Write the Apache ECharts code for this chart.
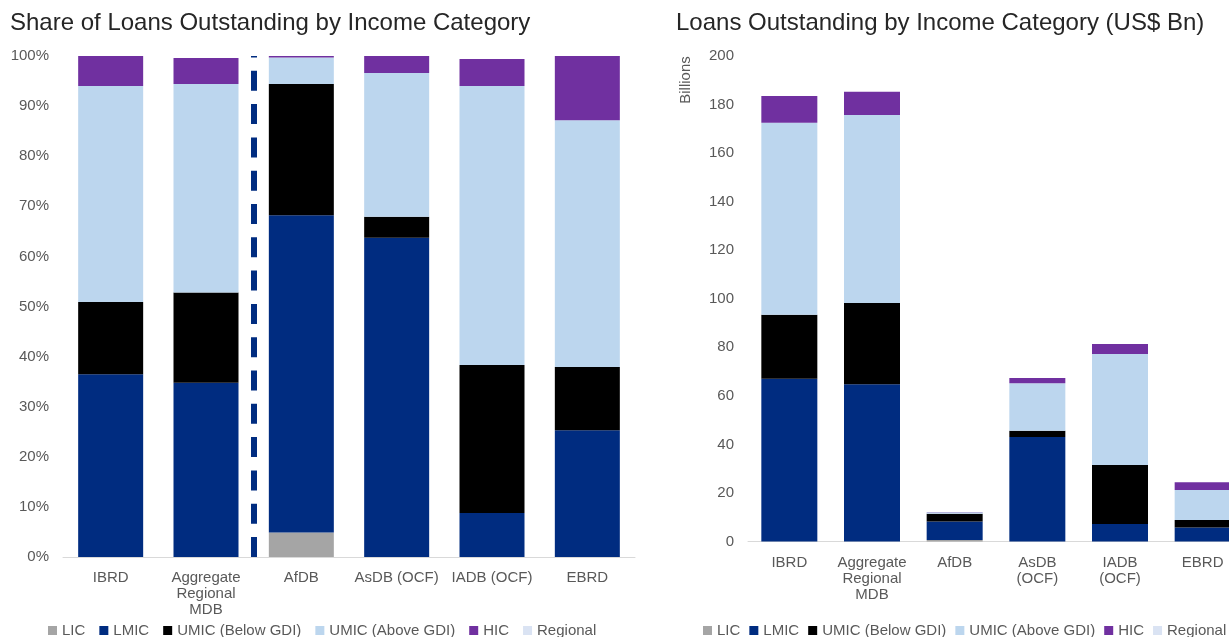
<!DOCTYPE html>
<html>
<head>
<meta charset="utf-8">
<script src="https://cdn.jsdelivr.net/npm/echarts@6/dist/echarts.min.js"></script>
<style>
  html, body { margin: 0; padding: 0; background: #ffffff; }
  #chart { width: 1229px; height: 637px; }
</style>
</head>
<body>
<div id="chart"></div>
<script>
// ---------- data ----------
const shareCategories = ['IBRD', 'Aggregate\nRegional\nMDB', 'AfDB', 'AsDB (OCF)', 'IADB (OCF)', 'EBRD'];
const amountCategories = ['IBRD', 'Aggregate\nRegional\nMDB', 'AfDB', 'AsDB\n(OCF)', 'IADB\n(OCF)', 'EBRD'];
const seriesNames = ['LIC', 'LMIC', 'UMIC (Below GDI)', 'UMIC (Above GDI)', 'HIC', 'Regional'];

// Share of loans outstanding (%)
const shareLIC       = [0,    0,    4.9,  0,    0,    0];
const shareLMIC      = [36.5, 34.8, 63.3, 63.7, 8.8,  25.3];
const shareUMICBelow = [14.4, 18.0, 26.2, 4.2,  29.5, 12.6];
const shareUMICAbove = [43.1, 41.6, 5.3,  28.7, 55.7, 49.3];
const shareHIC       = [6.0,  5.2,  0.3,  3.4,  5.4,  12.8];
const shareRegional  = [0,    0,    0,    0,    0,    0];

// Loans outstanding (US$ Bn)
const amtLIC       = [0,    0,    0.6,  0,    0,    0];
const amtLMIC      = [67.0, 64.8, 7.6,  43.0, 7.2,  5.8];
const amtUMICBelow = [26.4, 33.4, 3.2,  2.6,  24.3, 3.1];
const amtUMICAbove = [79.1, 77.5, 0.7,  19.6, 45.7, 12.3];
const amtHIC       = [11.0, 9.6,  0.05, 2.2,  4.2,  3.2];
const amtRegional  = [0,    0,    0,    0,    0,    0];

// divider between the World Bank bar group and the regional MDBs (boundary index on the category axis)
const dividerBoundary = 2;

const shareTicks = { min: 0, max: 100, interval: 10, suffix: '%' };
const amtTicks = { min: 0, max: 200, interval: 20 };

// ---------- style ----------
const colors = ['#a5a5a5', '#002c80', '#000000', '#bcd6ee', '#7030a0', '#dae3f3'];
const FONT = 'Liberation Sans, Arial, sans-serif';
const labelColor = '#595959';

const shareData = [shareLIC, shareLMIC, shareUMICBelow, shareUMICAbove, shareHIC, shareRegional];
const amtData = [amtLIC, amtLMIC, amtUMICBelow, amtUMICAbove, amtHIC, amtRegional];

const series = [];
seriesNames.forEach((name, i) => {
  series.push({
    name, type: 'bar', stack: 'share', xAxisIndex: 0, yAxisIndex: 0,
    barWidth: 65, itemStyle: { color: colors[i] }, data: shareData[i]
  });
});
seriesNames.forEach((name, i) => {
  series.push({
    name, type: 'bar', stack: 'amt', xAxisIndex: 1, yAxisIndex: 1,
    barWidth: 56, itemStyle: { color: colors[i] }, data: amtData[i]
  });
});
// dashed divider drawn through a hidden value axis spanning the category bands
series.push({
  name: 'divider', type: 'line', xAxisIndex: 2, yAxisIndex: 0, data: [],
  silent: true,
  markLine: {
    silent: true, symbol: ['none', 'none'], label: { show: false },
    lineStyle: { color: '#002c80', width: 6, type: [20, 13.3], dashOffset: 0 },
    emphasis: { disabled: true },
    data: [{ xAxis: dividerBoundary }]
  }
});

const axisLabelStyle = { color: labelColor, fontSize: 15, fontFamily: FONT };

const option = {
  animation: false,
  color: colors,
  title: [
    { text: 'Share of Loans Outstanding by Income Category', left: 5, top: 6,
      textStyle: { fontSize: 24, fontWeight: 'normal', color: '#262626', fontFamily: FONT } },
    { text: 'Loans Outstanding by Income Category (US$ Bn)', left: 671, top: 6,
      textStyle: { fontSize: 24, fontWeight: 'normal', color: '#262626', fontFamily: FONT } }
  ],
  legend: [
    { data: seriesNames, left: 43, top: 618, width: 620, icon: 'rect', itemWidth: 9, itemHeight: 9, itemGap: 14,
      textStyle: { fontSize: 15, color: labelColor, fontFamily: FONT }, selectedMode: false },
    { data: seriesNames, left: 698, top: 618, width: 620, icon: 'rect', itemWidth: 9, itemHeight: 9, itemGap: 9,
      textStyle: { fontSize: 15, color: labelColor, fontFamily: FONT }, selectedMode: false }
  ],
  grid: [
    { left: 63, right: 594, top: 56, bottom: 80, containLabel: false, outerBoundsMode: 'none' },
    { left: 748, right: -15, top: 56, bottom: 95.5, containLabel: false, outerBoundsMode: 'none' }
  ],
  xAxis: [
    { type: 'category', gridIndex: 0, data: shareCategories,
      axisLine: { lineStyle: { color: '#d9d9d9', width: 1 } },
      axisTick: { show: false },
      axisLabel: Object.assign({ margin: 13, lineHeight: 16, interval: 0 }, axisLabelStyle),
      splitLine: { show: false } },
    { type: 'category', gridIndex: 1, data: amountCategories,
      axisLine: { lineStyle: { color: '#d9d9d9', width: 1 } },
      axisTick: { show: false },
      axisLabel: Object.assign({ margin: 13, lineHeight: 16, interval: 0 }, axisLabelStyle),
      splitLine: { show: false } },
    { type: 'value', gridIndex: 0, min: 0, max: shareCategories.length, show: false,
      splitLine: { show: false } }
  ],
  yAxis: [
    { type: 'value', gridIndex: 0, min: shareTicks.min, max: shareTicks.max, interval: shareTicks.interval,
      axisLine: { show: false }, axisTick: { show: false }, splitLine: { show: false },
      axisLabel: Object.assign({ margin: 14, formatter: (v) => v + shareTicks.suffix }, axisLabelStyle) },
    { type: 'value', gridIndex: 1, min: amtTicks.min, max: amtTicks.max, interval: amtTicks.interval,
      axisLine: { show: false }, axisTick: { show: false }, splitLine: { show: false },
      axisLabel: Object.assign({ margin: 14 }, axisLabelStyle) }
  ],
  graphic: [
    { type: 'text', x: 686, y: 80, rotation: Math.PI / 2,
      style: { text: 'Billions', fill: labelColor, fontSize: 15, fontFamily: FONT,
               textAlign: 'center', textVerticalAlign: 'middle' } }
  ],
  series
};

const chart = echarts.init(document.getElementById('chart'), null, { renderer: 'canvas' });
chart.setOption(option);
</script>
</body>
</html>
